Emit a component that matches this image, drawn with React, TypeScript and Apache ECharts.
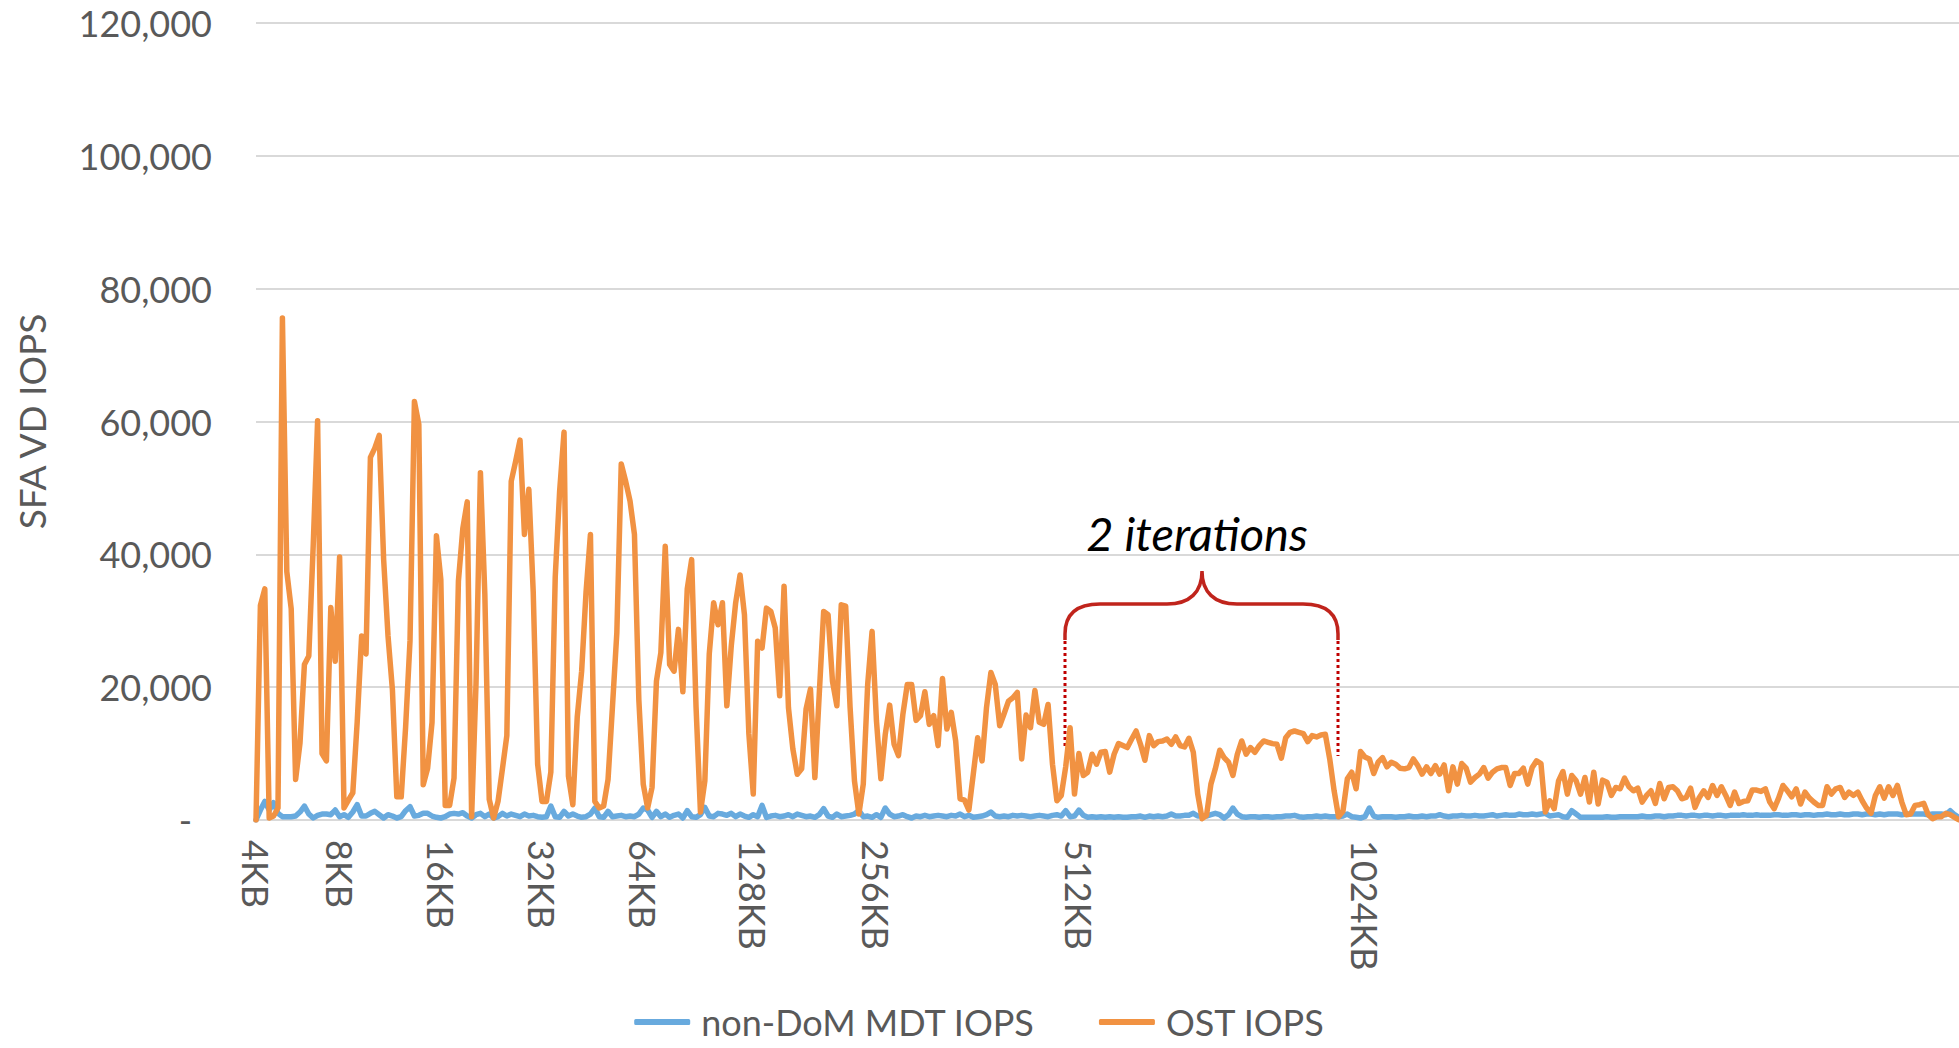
import React, { useEffect, useRef } from 'react';
import * as echarts from 'echarts';

// Block size labels and the sample index at which each block-size run starts
const blockSizeLabels = ['4KB', '8KB', '16KB', '32KB', '64KB', '128KB', '256KB', '512KB', '1024KB'];
const blockSizeStartSample = [0, 19, 42, 65, 88, 113, 141, 187, 252];

// non-DoM MDT IOPS, in thousands, one value per sample
const mdtIopsK = [
  0, 1.5, 2.8, 1.5, 2.6, 1.0, 0.5, 0.5, 0.5, 0.6,
  1.2, 2.1, 0.9, 0.3, 0.7, 0.9, 0.9, 0.8, 1.5, 0.5,
  0.8, 0.4, 1.2, 2.3, 0.6, 0.6, 1.0, 1.3, 0.8, 0.3,
  0.8, 0.6, 0.3, 0.5, 1.4, 2.0, 0.6, 0.7, 1.0, 1.0,
  0.6, 0.4, 0.3, 0.5, 0.9, 1.0, 0.9, 1.1, 0.6, 0.3,
  0.8, 1.0, 0.5, 0.9, 0.3, 0.5, 1.0, 0.6, 0.9, 0.7,
  0.5, 0.9, 0.6, 0.7, 0.5, 0.4, 0.5, 2.1, 0.5, 0.4,
  1.3, 0.6, 0.9, 0.6, 0.4, 0.5, 0.9, 1.8, 0.5, 0.4,
  1.3, 0.5, 0.6, 0.7, 0.5, 0.6, 0.5, 0.9, 1.8, 1.5,
  0.4, 1.3, 0.5, 0.9, 0.4, 0.7, 0.9, 0.3, 1.4, 0.5,
  0.4, 0.8, 1.9, 0.6, 0.5, 1.0, 0.9, 0.7, 1.0, 0.5,
  0.9, 0.6, 0.4, 0.8, 0.5, 2.2, 0.4, 0.6, 0.7, 0.5,
  0.6, 0.8, 0.5, 0.9, 0.7, 0.5, 0.6, 0.4, 0.8, 1.7,
  0.6, 0.4, 0.9, 0.5, 0.6, 0.7, 0.9, 1.4, 0.5, 0.6,
  0.4, 0.8, 0.4, 1.8, 0.9, 0.5, 0.6, 0.8, 0.5, 0.3,
  0.6, 0.5, 0.7, 0.5, 0.6, 0.7, 0.6, 0.5, 0.7, 0.6,
  0.9, 0.5, 0.7, 0.4, 0.5, 0.6, 0.8, 1.2, 0.6, 0.5,
  0.6, 0.5, 0.7, 0.6, 0.7, 0.6, 0.5, 0.6, 0.7, 0.6,
  0.5, 0.7, 0.8, 0.6, 1.4, 0.5, 0.6, 1.5, 0.7, 0.4,
  0.5, 0.4, 0.5, 0.4, 0.5, 0.4, 0.5, 0.4, 0.4, 0.5,
  0.5, 0.6, 0.4, 0.6, 0.5, 0.6, 0.5, 0.6, 0.9, 0.6,
  0.6, 0.7, 0.7, 1.0, 0.6, 0.6, 0.6, 0.8, 1.0, 0.8,
  0.3, 0.8, 1.8, 0.9, 0.5, 0.4, 0.5, 0.5, 0.4, 0.5,
  0.5, 0.4, 0.5, 0.5, 0.6, 0.6, 0.7, 0.5, 0.4, 0.5,
  0.5, 0.6, 0.5, 0.6, 0.5, 0.5, 0.5, 0.6, 0.9, 0.5,
  0.4, 0.3, 0.5, 1.8, 0.6, 0.4, 0.5, 0.5, 0.5, 0.4,
  0.5, 0.5, 0.6, 0.5, 0.5, 0.6, 0.5, 0.6, 0.6, 0.8,
  0.6, 0.5, 0.6, 0.6, 0.7, 0.6, 0.6, 0.7, 0.6, 0.6,
  0.7, 0.8, 0.6, 0.7, 0.8, 0.7, 0.7, 0.9, 0.8, 0.8,
  0.9, 0.8, 0.9, 1.0, 0.6, 0.7, 0.8, 0.5, 0.4, 1.4,
  0.9, 0.4, 0.4, 0.4, 0.4, 0.4, 0.4, 0.5, 0.4, 0.4,
  0.5, 0.5, 0.5, 0.5, 0.5, 0.6, 0.5, 0.5, 0.6, 0.6,
  0.5, 0.6, 0.6, 0.7, 0.7, 0.6, 0.7, 0.7, 0.6, 0.7,
  0.7, 0.6, 0.7, 0.7, 0.6, 0.7, 0.7, 0.7, 0.8, 0.7,
  0.7, 0.8, 0.7, 0.7, 0.7, 0.8, 0.8, 0.7, 0.7, 0.8,
  0.8, 0.7, 0.8, 0.8, 0.7, 0.8, 0.8, 0.9, 0.8, 0.8,
  0.9, 0.8, 0.8, 0.9, 0.9, 0.8, 0.9, 0.9, 0.8, 0.9,
  0.8, 0.9, 0.9, 0.9, 0.8, 0.9, 0.9, 0.9, 0.9, 0.9,
  0.8, 0.9, 0.9, 0.9, 0.8, 1.4, 0.8, 0.4,
];

// OST IOPS, in thousands, one value per sample
const ostIopsK = [
  0, 32.3, 34.8, 0.3, 0.6, 1.8, 75.6, 37.4, 31.8, 6.1,
  11.6, 23.4, 24.7, 41.3, 60.1, 10, 8.9, 32, 23.9, 39.6,
  1.8, 3, 4.1, 14.8, 27.7, 25, 54.6, 56, 57.9, 39.3,
  27.7, 19.6, 3.5, 3.5, 14, 27, 63, 59.6, 5.3, 7.8,
  14.7, 42.8, 36.2, 2.2, 2.2, 6.3, 36, 43.9, 47.9, 0.5,
  20.6, 52.3, 34, 3.1, 0.3, 2.8, 7.7, 12.7, 51, 54,
  57.2, 43, 49.8, 34.3, 8.4, 2.8, 2.8, 7.2, 36.6, 49.5,
  58.4, 6.6, 2.3, 15.5, 22.4, 34.3, 43, 2.8, 1.8, 2.1,
  6.1, 17, 28.2, 53.6, 51, 48, 43, 18.1, 5.4, 1.8,
  4.9, 20.9, 25.2, 41.2, 23.4, 22.4, 28.7, 19.3, 34.8, 39.2,
  17, 1.2, 5.9, 25, 32.7, 29.4, 32.7, 17.2, 26.2, 32.7,
  36.9, 30.9, 13, 3.9, 26.9, 25.9, 31.9, 31.4, 28.9, 18.7,
  35.2, 16.9, 10.7, 6.9, 7.7, 16.7, 19.7, 6.4, 19, 31.4,
  30.9, 20.9, 17.2, 32.4, 32.2, 17, 5.9, 0.9, 5.4, 20.4,
  28.4, 14.9, 6.2, 12.9, 17.3, 11.4, 9.7, 15.9, 20.4, 20.4,
  15, 15.7, 19.3, 14.4, 15.7, 11.2, 21.3, 13.7, 16.2, 11.9,
  3.2, 3.0, 1.5, 6.9, 12.4, 8.9, 16.9, 22.2, 20.4, 14.2,
  16, 17.9, 18.4, 19.2, 9.2, 15.8, 13.9, 19.5, 14.7, 14.4,
  17.4, 8.4, 2.9, 3.7, 8, 13.9, 3.9, 10, 6.7, 7.2,
  9.9, 8.4, 10.2, 10.3, 7.2, 9.9, 11.5, 11.2, 10.9, 12.2,
  13.4, 11.4, 9.0, 12.7, 11.2, 11.8, 11.9, 12.2, 11.4, 12.5,
  11.2, 11.0, 12.3, 10.2, 3.9, 0.2, 0.7, 5.4, 7.7, 10.5,
  9.4, 8.7, 6.7, 9.9, 11.9, 9.9, 10.9, 10.2, 11.2, 11.9,
  11.7, 11.5, 11.4, 9.3, 12.4, 13.2, 13.4, 13.2, 13.0, 11.8,
  12.7, 12.5, 12.8, 12.9, 9.2, 4.4, 0.5, 1.3, 6.2, 7.2,
  4.7, 10.3, 9.5, 9.2, 7.0, 8.7, 9.4, 8.0, 8.7, 8.4,
  7.8, 7.7, 7.9, 9.2, 8.2, 6.9, 8.0, 7.0, 8.2, 6.9,
  8.3, 4.4, 8.0, 5.4, 8.5, 7.8, 5.7, 6.4, 6.9, 7.9,
  6.3, 7.2, 7.7, 7.9, 7.9, 5.2, 7.0, 7.0, 7.8, 5.4,
  7.9, 8.9, 8.5, 1.2, 2.9, 1.7, 5.9, 7.3, 3.9, 6.7,
  5.9, 3.9, 6.4, 2.7, 7.2, 2.4, 6.0, 5.7, 3.7, 4.9,
  4.7, 6.3, 5.0, 4.4, 4.8, 2.7, 3.7, 4.4, 2.5, 5.5,
  3.2, 4.9, 5.0, 4.4, 3.2, 3.4, 4.8, 1.9, 3.4, 4.4,
  3.4, 5.2, 3.7, 5.0, 3.7, 2.2, 4.2, 2.5, 2.8, 2.9,
  4.5, 4.5, 4.3, 4.7, 2.7, 1.7, 3.3, 5.2, 4.4, 3.5,
  4.7, 2.4, 4.2, 3.3, 2.7, 2.2, 2.2, 5.0, 3.9, 4.7,
  4.9, 3.4, 4.2, 3.7, 4.2, 2.9, 1.8, 1.0, 3.7, 5.0,
  3.3, 5.0, 3.7, 5.2, 2.7, 0.8, 0.9, 2.2, 2.3, 2.5,
  0.8, 0.2, 0.5, 0.5, 1.0, 0.8, 0.4, 0.0,
];

const seriesNames = ['non-DoM MDT IOPS', 'OST IOPS'];
const seriesColors = ['#68AADE', '#F19242'];
const yAxisTitle = 'SFA VD IOPS';
const annotationText = '2 iterations';

const BRACE_D =
  'M1065 640 L1065 634 Q1065 604 1100 604 L1167 604 C1190 604 1202 592 1202 571 ' +
  'C1202 592 1214 604 1237 604 L1303 604 Q1338 604 1338 634 L1338 640';

let braceRegistered = false;
function ensureBrace() {
  if (braceRegistered) return;
  echarts.graphic.registerShape('brace', echarts.graphic.extendPath(BRACE_D, {}) as any);
  braceRegistered = true;
}

export default function App() {
  const ref = useRef<HTMLDivElement>(null);

  useEffect(() => {
    if (!ref.current) return;
    ensureBrace();
    const chart = echarts.init(ref.current, undefined, { renderer: 'svg' });

    const samples = ostIopsK.map((_, i) => String(i));
    const labelAt = new Map<number, string>();
    blockSizeStartSample.forEach((idx, k) => labelAt.set(idx, blockSizeLabels[k]));

    const grey = '#595959';
    const font = 'Lato, "Noto Sans", sans-serif';

    chart.setOption({
      animation: false,
      backgroundColor: '#ffffff',
      textStyle: { fontFamily: font },
      grid: { left: 256, right: 0, top: 23, bottom: 228, containLabel: false },
      legend: {
        data: seriesNames,
        left: 'center',
        top: 1004,
        padding: 0,
        icon: 'roundRect',
        itemWidth: 56,
        itemHeight: 6,
        itemGap: 64,
        textStyle: {
          fontSize: 36,
          lineHeight: 34,
          color: grey,
          fontFamily: font,
          padding: [0, 0, 0, 6],
        },
      },
      xAxis: {
        type: 'category',
        data: samples,
        boundaryGap: false,
        axisLine: { show: true, lineStyle: { color: '#D9D9D9', width: 2 } },
        axisTick: { show: false },
        splitLine: { show: false },
        axisLabel: {
          interval: (index: number) => labelAt.has(index),
          formatter: (_v: string, index: number) => labelAt.get(index) ?? '',
          rotate: -90,
          margin: 20,
          fontSize: 36,
          color: grey,
          fontFamily: font,
          hideOverlap: false,
        },
      },
      yAxis: {
        type: 'value',
        min: 0,
        max: 120000,
        interval: 20000,
        name: yAxisTitle,
        nameLocation: 'middle',
        nameGap: 206,
        nameTextStyle: { fontSize: 37, color: grey, fontFamily: font },
        axisLine: { show: false },
        axisTick: { show: false },
        splitLine: { lineStyle: { color: '#D9D9D9', width: 2 } },
        axisLabel: {
          margin: 44,
          fontSize: 36,
          lineHeight: 30,
          color: grey,
          fontFamily: font,
          formatter: (v: number) => (v === 0 ? '{d|-}' : v.toLocaleString('en-US')),
          rich: {
            d: { fontSize: 36, lineHeight: 30, color: grey, fontFamily: font, padding: [0, 20, 0, 0] },
          },
        },
      },
      series: [
        {
          name: seriesNames[0],
          type: 'line',
          data: mdtIopsK.map((v) => v * 1000),
          showSymbol: false,
          symbol: 'none',
          itemStyle: { color: seriesColors[0] },
          lineStyle: { color: seriesColors[0], width: 5.5, join: 'round', cap: 'round' },
        },
        {
          name: seriesNames[1],
          type: 'line',
          data: ostIopsK.map((v) => v * 1000),
          showSymbol: false,
          symbol: 'none',
          itemStyle: { color: seriesColors[1] },
          lineStyle: { color: seriesColors[1], width: 5.5, join: 'round', cap: 'round' },
        },
      ],
      graphic: [
        {
          type: 'text',
          x: 1197,
          y: 533,
          style: {
            text: annotationText,
            fontSize: 47,
            fontStyle: 'italic',
            fontFamily: font,
            fill: '#000000',
            align: 'center',
            verticalAlign: 'middle',
          },
        },
        {
          type: 'brace',
          x: 0,
          y: 0,
          style: { stroke: '#C0241C', fill: 'none', lineWidth: 3.5 },
        },
        {
          type: 'line',
          shape: { x1: 1065, y1: 641, x2: 1065, y2: 748 },
          style: { stroke: '#C00000', lineWidth: 3, lineDash: [3, 3] },
        },
        {
          type: 'line',
          shape: { x1: 1338, y1: 641, x2: 1338, y2: 756 },
          style: { stroke: '#C00000', lineWidth: 3, lineDash: [3, 3] },
        },
      ],
    });

    return () => chart.dispose();
  }, []);

  return (
    <div
      ref={ref}
      style={{ position: 'fixed', left: 0, top: 0, width: 1959, height: 1048, background: '#fff' }}
    />
  );
}
